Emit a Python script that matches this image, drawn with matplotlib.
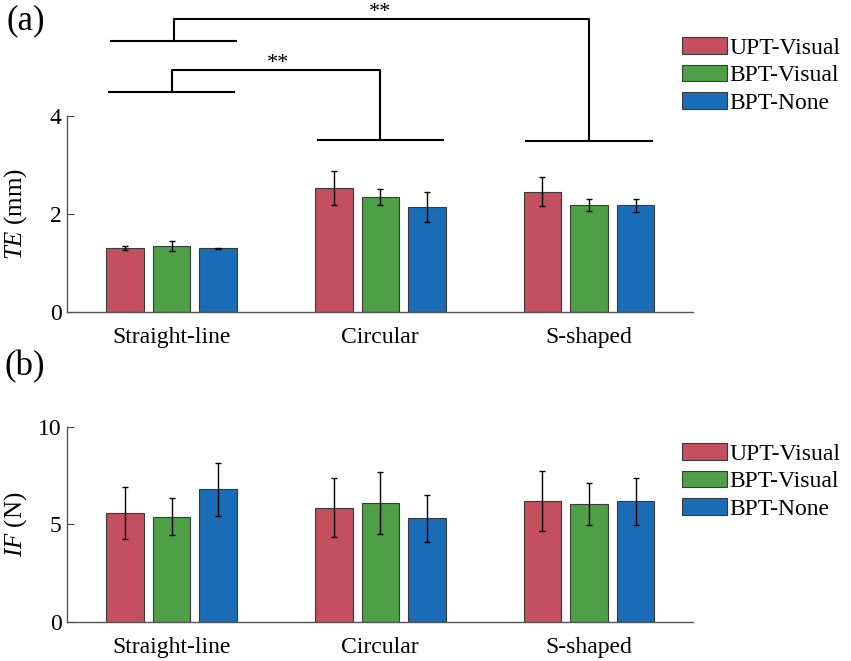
import numpy as np
import matplotlib
matplotlib.use("Agg")
import matplotlib.pyplot as plt

plt.rcParams['font.family'] = ['Liberation Serif', 'DejaVu Serif']
plt.rcParams['mathtext.fontset'] = 'custom'
plt.rcParams['mathtext.rm'] = 'Liberation Serif'
plt.rcParams['mathtext.it'] = 'Liberation Serif:italic'

# data
tasks = ['Straight-line', 'Circular', 'S-shaped']
groups = ['UPT-Visual', 'BPT-Visual', 'BPT-None']
colors = ['#C4505F', '#4E9F45', '#1B6DB8']

te_mean = [[1.30, 2.52, 2.45],
           [1.34, 2.34, 2.18],
           [1.29, 2.14, 2.17]]
te_err = [[0.04, 0.35, 0.30],
          [0.10, 0.16, 0.12],
          [0.01, 0.31, 0.13]]

if_mean = [[5.56, 5.85, 6.21],
           [5.38, 6.09, 6.04],
           [6.79, 5.30, 6.19]]
if_err = [[1.33, 1.50, 1.53],
          [0.95, 1.60, 1.07],
          [1.36, 1.20, 1.20]]

fs = 17
width = 0.18
step = 0.223
x = np.arange(1, len(tasks) + 1)

fig = plt.figure(figsize=(8.51, 6.61), dpi=100)
ax1 = fig.add_axes([0.0791, 0.5287, 0.7356, 0.2958])
ax2 = fig.add_axes([0.0791, 0.059, 0.7356, 0.2955])


def draw(ax, means, errs, ymax, yticks, ylabel):
    for i in range(3):
        ax.bar(x + (i - 1) * step, means[i], width, color=colors[i],
               edgecolor='#3a3a3a', linewidth=0.8, label=groups[i], zorder=2)
        ax.errorbar(x + (i - 1) * step, means[i], yerr=errs[i], fmt='none',
                    ecolor='black', elinewidth=1.0, capsize=2.5, capthick=1.0, zorder=3)
    ax.set_xlim(0.5, 3.5)
    ax.set_ylim(0, ymax)
    ax.set_yticks(yticks)
    ax.set_xticks(x)
    ax.set_xticklabels(tasks, fontsize=fs)
    ax.tick_params(axis='both', direction='in', length=5, width=0.8,
                   labelsize=fs, colors='#444444', labelcolor='black')
    ax.tick_params(axis='x', pad=11)
    ax.tick_params(axis='y', pad=4)
    for s in ['top', 'right']:
        ax.spines[s].set_visible(False)
    for s in ['left', 'bottom']:
        ax.spines[s].set_color('#555555')
        ax.spines[s].set_linewidth(1.0)
    ax.set_ylabel(ylabel, fontsize=18)
    ax.yaxis.set_label_coords(-0.061, 0.5)


draw(ax1, te_mean, te_err, 4, [0, 2, 4], r'$\mathit{TE}$ (mm)')
draw(ax2, if_mean, if_err, 10, [0, 5, 10], r'$\mathit{IF}$ (N)')

# significance brackets (panel a)
def bracket(ax, c1, c2, y1, y2, top, half=0.3):
    kw = dict(color='black', lw=1.5, clip_on=False, zorder=4)
    ax.plot([c1 - half, c1 + half], [y1, y1], **kw)
    ax.plot([c2 - half, c2 + half], [y2, y2], **kw)
    ax.plot([c1, c1, c2, c2], [y1, top, top, y2], **kw)

bracket(ax1, 1, 2, 4.5, 3.5, 4.94)
bracket(ax1, 1.01, 3, 5.53, 3.48, 5.98)
ax1.text(1.51, 4.87, '**', ha='center', va='bottom', fontsize=16, clip_on=False)
ax1.text(2.0, 5.92, '**', ha='center', va='bottom', fontsize=16, clip_on=False)

for ax, ytop in [(ax1, 1 - 37 / 661), (ax2, 1 - 443 / 661)]:
    ax.legend(loc='upper left', bbox_to_anchor=(681.7 / 851, ytop),
              bbox_transform=fig.transFigure, frameon=False, fontsize=fs,
              handlelength=1.9, handleheight=0.72, handletextpad=0.12,
              labelspacing=0.25, borderpad=0, borderaxespad=0)

fig.text(26 / 851, 1 - 21 / 661, '(a)', fontsize=25, ha='center', va='center')
fig.text(24.5 / 851, 1 - 367 / 661, '(b)', fontsize=25, ha='center', va='center')

fig.savefig('out.png', dpi=100)
